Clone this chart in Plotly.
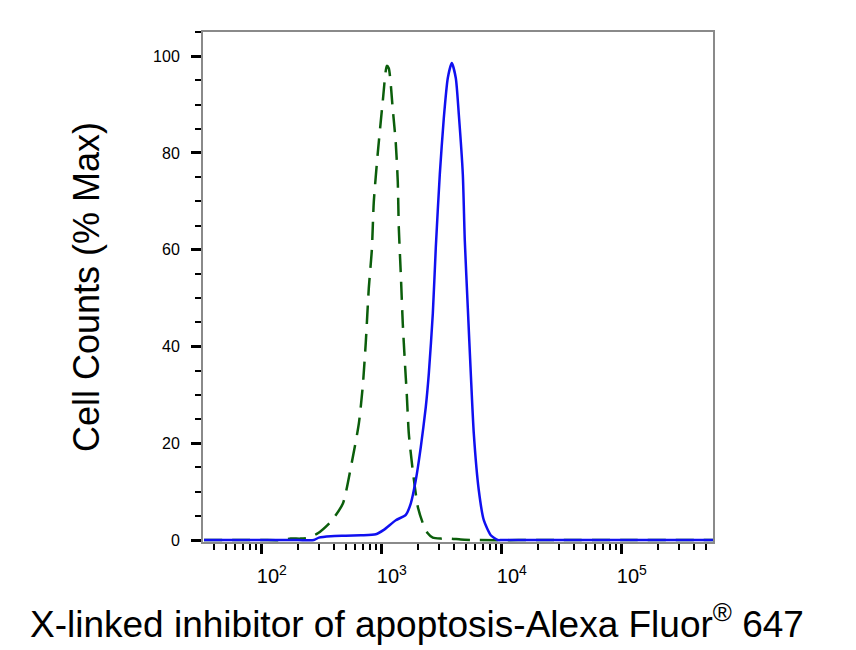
import plotly.graph_objects as go

# fluorescence intensity (linear units) and % max
sample_x = [33, 100, 200, 271, 299, 376, 501, 668, 891, 1039, 1308, 1585, 1745,
            1920, 2113, 2326, 2465, 2661, 2818, 3043, 3286, 3548, 3831, 4136,
            4382, 4732, 4916, 5208, 5517, 5843, 6431, 7079, 8091, 9261, 10000,
            30000, 100000, 300000, 575000]
sample_y = [0, 0, 0, 0, 0.5, 0.8, 0.9, 1.0, 1.2, 2.1, 4.1, 5.2, 7.6,
            12.4, 19.2, 27.5, 34.4, 46.8, 60.4, 75.6, 87.2, 95.5, 98.6, 95.5,
            88.0, 75.6, 61.9, 48.0, 34.4, 22.0, 10.3, 4.1, 1.0, 0, 0,
            0, 0, 0, 0]

control_x = [33, 100, 144, 174, 211, 246, 293, 376, 473, 552, 643, 695, 736,
             779, 826, 858, 926, 1019, 1101, 1143, 1235, 1308, 1359, 1386,
             1440, 1496, 1555, 1616, 1679, 1811, 1995, 2197, 2416, 2661, 3090,
             3758, 4550, 6000, 30000, 100000, 575000]
control_y = [0, 0, 0, 0.3, 0.3, 0.5, 1.4, 3.8, 7.5, 15, 24, 32, 41,
             52, 60, 70, 80, 90.7, 98, 97.5, 89, 82, 74, 64.5,
             55, 44.7, 37, 30, 22, 14.4, 6.9, 3.5, 1.4, 0.5, 0.3,
             0.3, 0.1, 0, 0, 0, 0]

y_major = [0, 20, 40, 60, 80, 100]
y_minor = [5, 10, 15, 25, 30, 35, 45, 50, 55, 65, 70, 75, 85, 90, 95, 105]

x_title = "X-linked inhibitor of apoptosis-Alexa Fluor<sup>®</sup> 647"
y_title = "Cell Counts (% Max)"

fig = go.Figure()
fig.add_trace(go.Scatter(
    x=control_x, y=control_y, mode="lines",
    line=dict(color="#0b5e0b", width=2.5, dash="18px,10px",
              shape="spline", smoothing=0.6),
    showlegend=False,
))
fig.add_trace(go.Scatter(
    x=sample_x, y=sample_y, mode="lines",
    line=dict(color="#1010f0", width=2.5, shape="spline", smoothing=0.6),
    showlegend=False,
))

fig.update_layout(
    width=856, height=650,
    margin=dict(l=195, r=151, t=24, b=116),
    paper_bgcolor="white", plot_bgcolor="white",
    font=dict(family="Liberation Sans, Arial, sans-serif", color="black"),
)
fig.update_xaxes(
    type="log", range=[1.51, 5.76],
    dtick=1, exponentformat="power", showexponent="all",
    showgrid=False, zeroline=False,
    showline=True, mirror=True, linecolor="#8a8a8a", linewidth=2,
    ticks="outside", ticklen=10, tickwidth=3, tickcolor="black",
    tickfont=dict(size=16), ticklabelshift=10, ticklabelstandoff=6,
    minor=dict(ticks="outside", ticklen=6, tickwidth=1.5, tickcolor="black",
               showgrid=False),
)
fig.update_yaxes(
    range=[-0.4, 105],
    tickvals=y_major,
    showgrid=False, zeroline=False,
    showline=True, mirror=True, linecolor="#8a8a8a", linewidth=2,
    ticks="outside", ticklen=10, tickwidth=3, tickcolor="black",
    tickfont=dict(size=16), ticklabelstandoff=8,
    minor=dict(tickvals=y_minor, ticks="outside", ticklen=6, tickwidth=2,
               tickcolor="black", showgrid=False),
    title=dict(text=y_title, font=dict(size=36), standoff=42),
)

# x title sits left of the plot centre in the original, so place it by hand
fig.add_annotation(
    text=x_title, xref="paper", yref="paper",
    x=0.42, y=-0.155, xanchor="center", yanchor="middle",
    showarrow=False, font=dict(size=37),
)

fig.write_html("out.html")
